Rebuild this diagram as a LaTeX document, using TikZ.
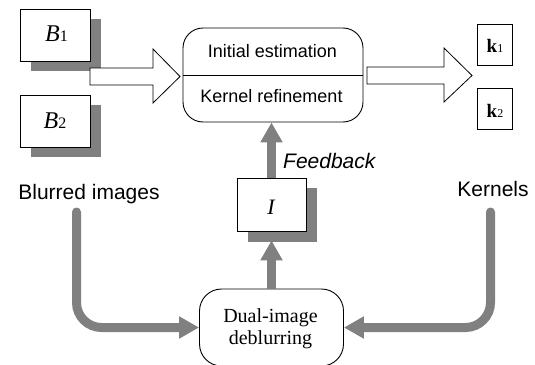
\documentclass[tikz,border=0pt]{standalone}
\usepackage{fontspec}
\setmainfont{Liberation Serif}
\setsansfont{Liberation Sans}
\usetikzlibrary{arrows.meta,shadows}
\definecolor{sg}{HTML}{808080}
\tikzset{
  imgbox/.style={draw=black, line width=0.8pt, fill=white, inner sep=0pt,
    minimum width=70pt, minimum height=52pt,
    drop shadow={shadow xshift=11pt, shadow yshift=-10pt, fill=sg, opacity=1}},
  kbox/.style={draw=black, line width=0.8pt, fill=white, inner sep=0pt,
    minimum width=35pt, minimum height=41pt},
  rbox/.style={draw=black, line width=0.9pt, fill=white, inner sep=0pt},
  hollow/.style={draw=black, line width=0.8pt, fill=white, line join=miter},
  garrow/.style={draw=sg, line width=9pt, -{Triangle[width=21pt,length=20pt]}},
  sidearrow/.style={garrow, line cap=round, rounded corners=25pt},
  lbl/.style={anchor=base, inner sep=0pt, font=\sffamily\fontsize{21}{24}\selectfont},
  boxtxt/.style={anchor=base, inner sep=0pt, font=\sffamily\fontsize{18}{21}\selectfont},
  dualtxt/.style={anchor=base, inner sep=0pt, font=\fontsize{20}{22}\selectfont},
}
\newcommand{\bigB}[1]{{\fontsize{24}{26}\selectfont\textit{B}}{\fontsize{16}{18}\selectfont #1}}
\newcommand{\bigk}[1]{{\fontsize{19}{21}\selectfont\textbf{k}}{\fontsize{12}{14}\selectfont #1}}
\begin{document}
\begin{tikzpicture}[x=1pt,y=-1pt]
\useasboundingbox (0,0) rectangle (535,364);

% blurred image boxes
\node[imgbox] (b1) at (55,35) {};
\node[anchor=base, inner sep=0pt] (b1t) at (56.5,41) {\bigB{1}};
\node[imgbox] (b2) at (55,121) {};
\node[anchor=base, inner sep=0pt] (b2t) at (55,128) {\bigB{2}};

% hollow arrow 1
\draw[hollow] (90,68) -- (153,68) -- (153,49) -- (180,76.5) -- (153,103) -- (153,85) -- (90,85) -- cycle;

% top box
\node[rbox, minimum width=180pt, minimum height=94pt, rounded corners=20pt] (top) at (273,75) {};
\draw[line width=0.9pt] (top.west) -- (top.east);
\node[boxtxt] (t1) at (272.5,57) {Initial estimation};
\node[boxtxt] (t2) at (271.5,102) {Kernel refinement};

% hollow arrow 2
\draw[hollow] (367,67) -- (444,67) -- (444,48) -- (472,75.5) -- (444,102) -- (444,84) -- (367,84) -- cycle;

% kernel boxes
\node[kbox] (k1) at (494.5,44.5) {};
\node[anchor=base, inner sep=0pt] (k1t) at (495,52) {\bigk{1}};
\node[kbox] (k2) at (494.5,109) {};
\node[anchor=base, inner sep=0pt] (k2t) at (495,117) {\bigk{2}};

% labels
\node[lbl] (lb) at (89,199) {Blurred images};
\node[lbl] (lk) at (493,196) {Kernels};
\node[lbl, anchor=base west, font=\sffamily\itshape\fontsize{21}{24}\selectfont] (fb) at (283,168) {Feedback};

% latent image box
\node[imgbox, minimum width=69pt, minimum height=53pt, drop shadow={shadow xshift=11pt, shadow yshift=-11pt, fill=sg, opacity=1}] (I) at (271.5,204.5) {};
\node[anchor=base, inner sep=0pt] (It) at (271.5,214) {\fontsize{22}{24}\selectfont\textit{I}};

% dual-image deblurring box
\node[rbox, minimum width=144pt, minimum height=77pt, rounded corners=22pt] (dual) at (271.5,327.5) {};
\node[dualtxt] (d1) at (270.5,322) {Dual-image};
\node[dualtxt] (d2) at (270.5,344) {deblurring};

% gray connectors
\coordinate (ls) at (76.5,212);
\coordinate (rs) at (490.5,212);
\draw[sidearrow] (ls) |- (dual.west);
\draw[sidearrow] (rs) |- (dual.east);
\draw[garrow] (dual.north) -- ([yshift=-9pt]I.south);
\draw[garrow] (I.north) -- (I.north |- top.south);
\end{tikzpicture}
\end{document}
